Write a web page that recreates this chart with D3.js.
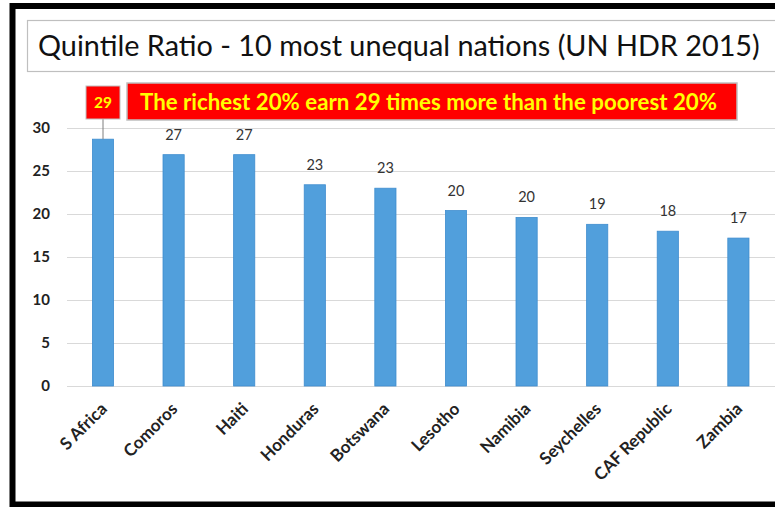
<!DOCTYPE html>
<html>
<head>
<meta charset="utf-8">
<script src="https://cdn.jsdelivr.net/npm/d3@7"></script>
<style>
  html, body { margin: 0; padding: 0; background: #fff; }
  svg { display: block; }
</style>
</head>
<body>
<svg id="chart" width="775" height="507"></svg>
<script>
// ---- data ----
const titleText = "Quintile Ratio - 10 most unequal nations (UN HDR 2015)";
const noteText = "The richest 20% earn 29 times more than the poorest 20%";
const categories = ["S Africa", "Comoros", "Haiti", "Honduras", "Botswana", "Lesotho", "Namibia", "Seychelles", "CAF Republic", "Zambia"];
const values = [28.7, 26.9, 26.9, 23.4, 23.0, 20.4, 19.6, 18.8, 18.0, 17.2];
const yTicks = [0, 5, 10, 15, 20, 25, 30];
const highlightIndex = 0;

const svg = d3.select("#chart");
const FONT = "Lato, 'Open Sans', sans-serif";
const rows = categories.map((c, i) => ({ c, v: values[i], i }));

// outer black frame
svg.append("rect").attr("x", 12.5).attr("y", 6).attr("width", 800).attr("height", 498.5)
  .attr("fill", "#fff").attr("stroke", "#000").attr("stroke-width", 6);

// title box
svg.append("rect").attr("x", 27.5).attr("y", 20.5).attr("width", 800).attr("height", 51)
  .attr("fill", "#fff").attr("stroke", "#bfbfbf").attr("stroke-width", 1.2);

function fitText(sel, target) {
  const w = sel.node().getComputedTextLength();
  const fs = parseFloat(sel.attr("font-size"));
  sel.attr("font-size", fs * target / w);
}

const title = svg.append("text").attr("x", 38).attr("y", 56)
  .attr("font-family", FONT).attr("font-size", 24).attr("fill", "#111")
  .text(titleText);
fitText(title, 722);

// scales
const x = d3.scaleBand().domain(categories).range([67.7, 773.7]).paddingInner(0.7).paddingOuter(0.35);
const y = d3.scaleLinear().domain([0, 30]).range([386, 128]);

// gridlines
const grid = svg.append("g").attr("transform", "translate(67,0)")
  .call(d3.axisLeft(y).tickValues(yTicks).tickSize(-(775 - 67)).tickFormat(""));
grid.select(".domain").remove();
grid.selectAll(".tick line").attr("stroke", "#d9d9d9").attr("stroke-width", 1.2);

// y tick labels
const yAxis = svg.append("g").attr("transform", "translate(52,0)")
  .call(d3.axisLeft(y).tickValues(yTicks).tickSize(0).tickPadding(2).tickFormat(d3.format("d")));
yAxis.select(".domain").remove();
yAxis.selectAll("text").attr("font-family", FONT).attr("font-size", 15).attr("font-weight", "bold").attr("fill", "#222");

// bars
svg.append("g").selectAll("rect").data(rows).join("rect")
  .attr("x", d => x(d.c))
  .attr("y", d => y(d.v))
  .attr("width", x.bandwidth())
  .attr("height", d => y(0) - y(d.v))
  .attr("fill", "#519fdc").attr("stroke", "#3f8dcf").attr("stroke-width", 0.8);

// value labels (except highlighted)
svg.append("g").selectAll("text").data(rows.filter(d => d.i !== highlightIndex)).join("text")
  .attr("x", d => x(d.c) + x.bandwidth() / 2)
  .attr("y", d => y(d.v) - 15)
  .attr("text-anchor", "middle")
  .attr("font-family", FONT).attr("font-size", 14.5).attr("fill", "#333")
  .text(d => d3.format(".0f")(d.v));

// x labels rotated
svg.append("g").selectAll("text").data(categories).join("text")
  .attr("transform", d => `translate(${x(d) + x.bandwidth() / 2 + 5},${y(0) + 24}) rotate(-45)`)
  .attr("text-anchor", "end")
  .attr("font-family", FONT).attr("font-size", 17).attr("font-weight", "bold").attr("fill", "#222")
  .text(d => d);

// highlight callout
const hx = x(categories[highlightIndex]) + x.bandwidth() / 2;
svg.append("line").attr("x1", hx).attr("x2", hx).attr("y1", 119).attr("y2", y(values[highlightIndex]))
  .attr("stroke", "#7f7f7f").attr("stroke-width", 1);
svg.append("rect").attr("x", 86).attr("y", 86).attr("width", 34).attr("height", 33)
  .attr("fill", "#ff0000").attr("stroke", "#bfbfbf").attr("stroke-width", 1);
svg.append("text").attr("x", 103).attr("y", 108).attr("text-anchor", "middle")
  .attr("font-family", FONT).attr("font-size", 16).attr("font-weight", "bold").attr("fill", "#ffff00")
  .attr("textLength", 18).attr("lengthAdjust", "spacingAndGlyphs")
  .text(d3.format(".0f")(values[highlightIndex]));

svg.append("rect").attr("x", 127).attr("y", 83).attr("width", 610).attr("height", 37)
  .attr("fill", "#ff0000").attr("stroke", "#bfbfbf").attr("stroke-width", 1.5);
svg.append("text").attr("x", 140).attr("y", 110)
  .attr("font-family", FONT).attr("font-size", 22).attr("font-weight", "bold").attr("fill", "#ffff00")
  .attr("textLength", 577).attr("lengthAdjust", "spacingAndGlyphs")
  .text(noteText);
</script>
</body>
</html>
